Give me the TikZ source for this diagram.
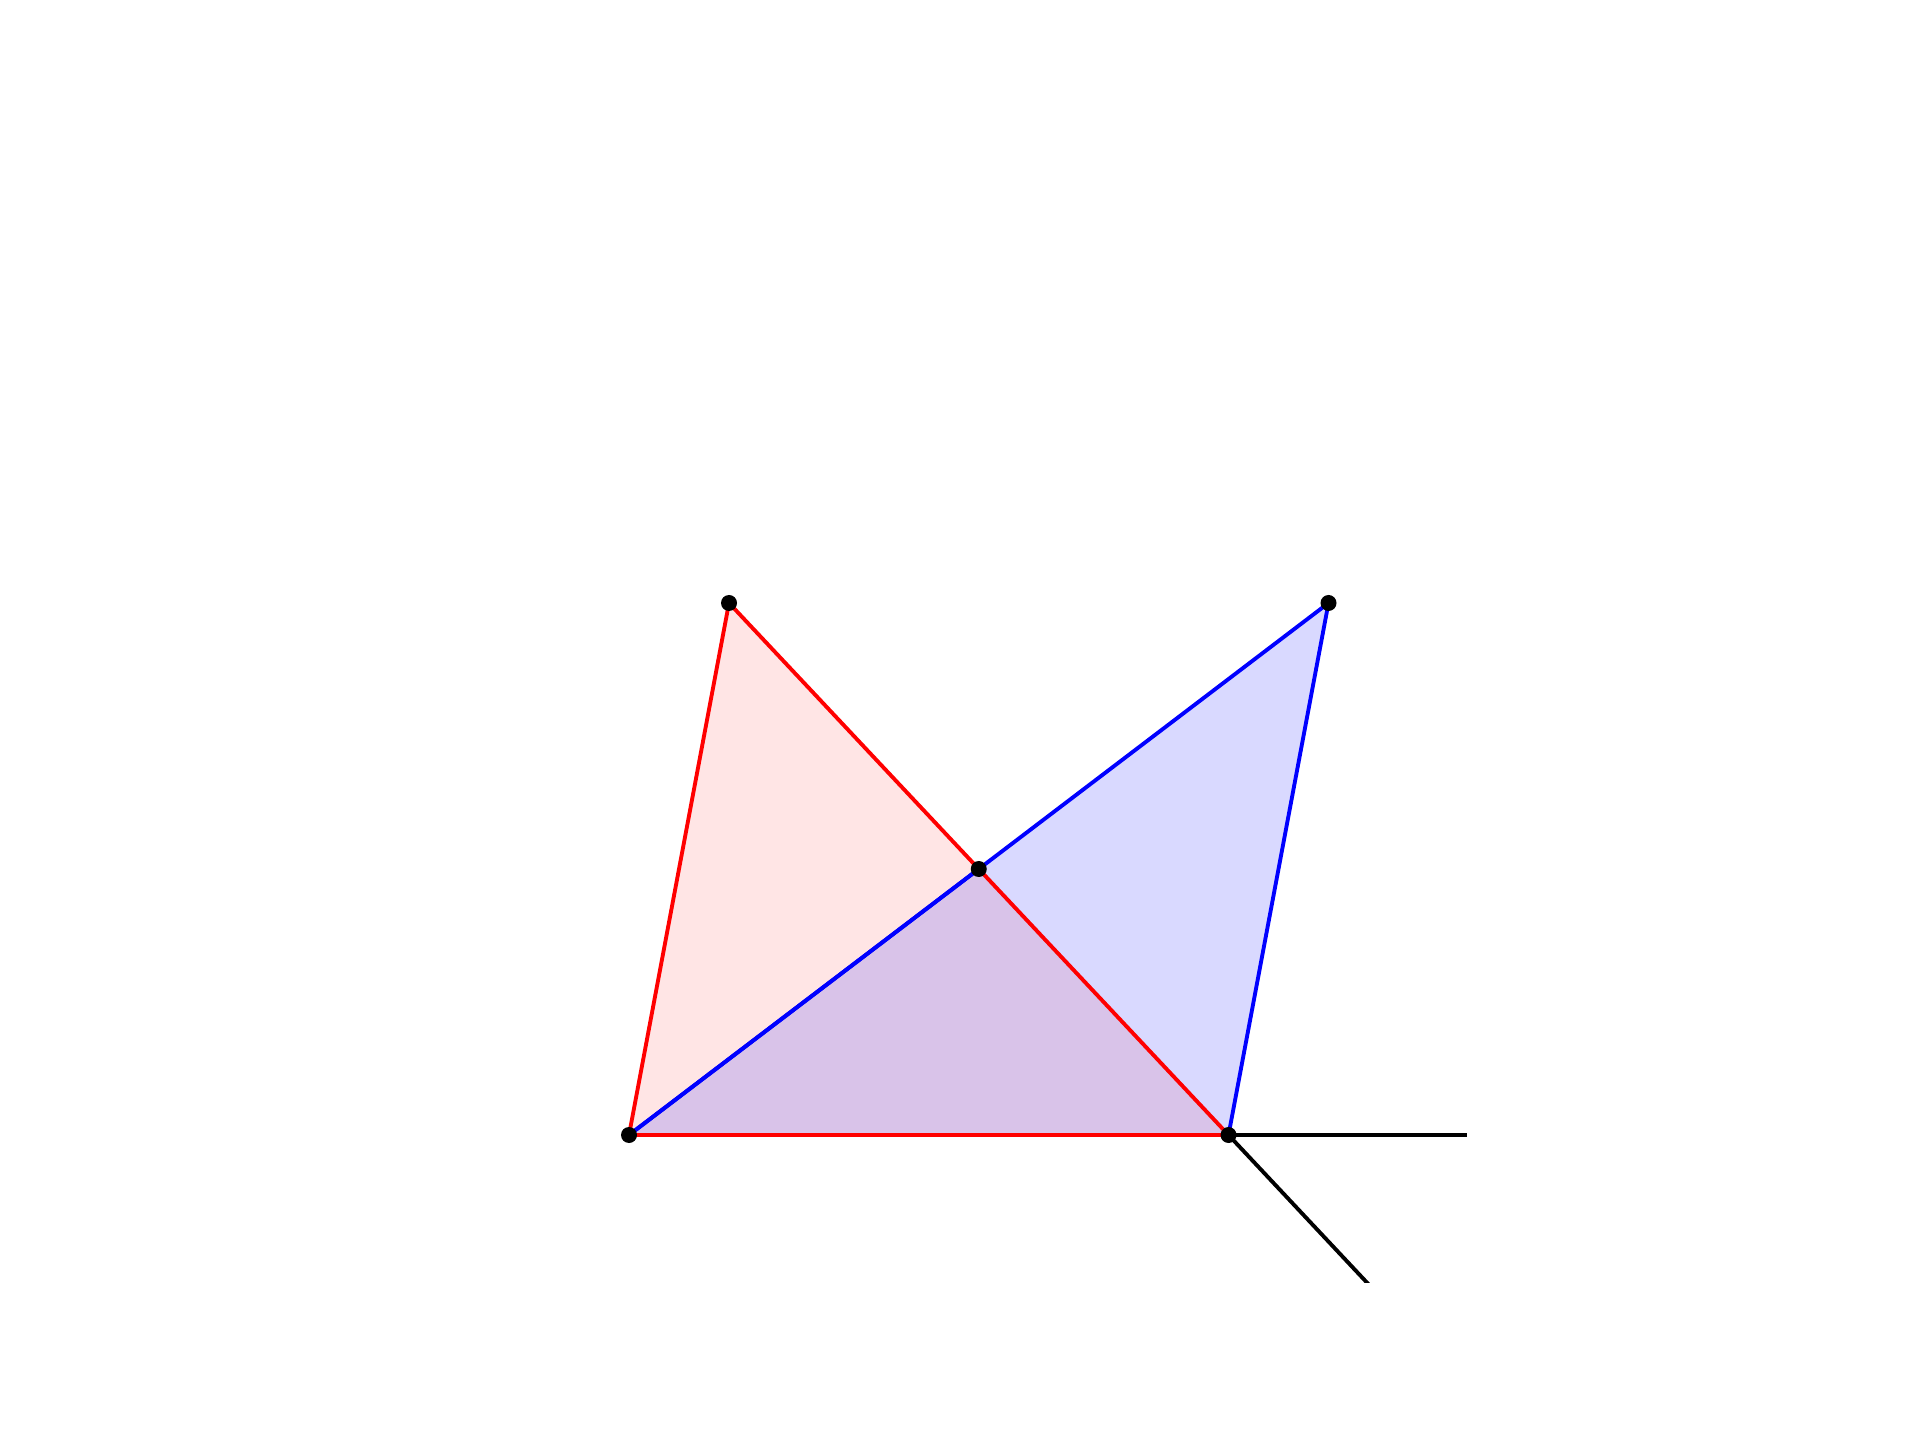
\documentclass[tikz,border=0pt]{standalone}
\begin{document}
\begin{tikzpicture}[
  dot/.style={circle,fill=black,inner sep=0pt,minimum size=0.16cm},
  edge/.style={line width=1.1pt},
]
\useasboundingbox (0,0) rectangle (19.2,14.4);
\coordinate (A) at (6.29,3.05);
\coordinate (B) at (12.285,3.05);
\coordinate (C) at (7.29,8.37);
\coordinate (D) at (13.285,8.37);
\coordinate (E) at (9.7875,5.71);
\coordinate (H) at (14.67,3.05);
\coordinate (G) at (13.72,1.52);
% fills
\fill[red,opacity=0.1] (A) -- (C) -- (B) -- cycle;
\fill[blue,opacity=0.15] (A) -- (D) -- (B) -- cycle;
% extensions (clipped at the plot frame)
\begin{scope}
\clip (0,1.58) rectangle (14.67,14.4);
\draw[edge,black] (B) -- (H);
\draw[edge,black] (B) -- (G);
\end{scope}
% blue triangle
\draw[edge,blue] (A) -- (D) -- (B);
% red triangle
\draw[edge,red] (B) -- (A) -- (C) -- (B);
\draw[edge,blue] (A) -- (E);
% points
\node[dot] (pA) at (A) {};
\node[dot] (pB) at (B) {};
\node[dot] (pC) at (C) {};
\node[dot] (pD) at (D) {};
\node[dot] (pE) at (E) {};
\end{tikzpicture}
\end{document}
